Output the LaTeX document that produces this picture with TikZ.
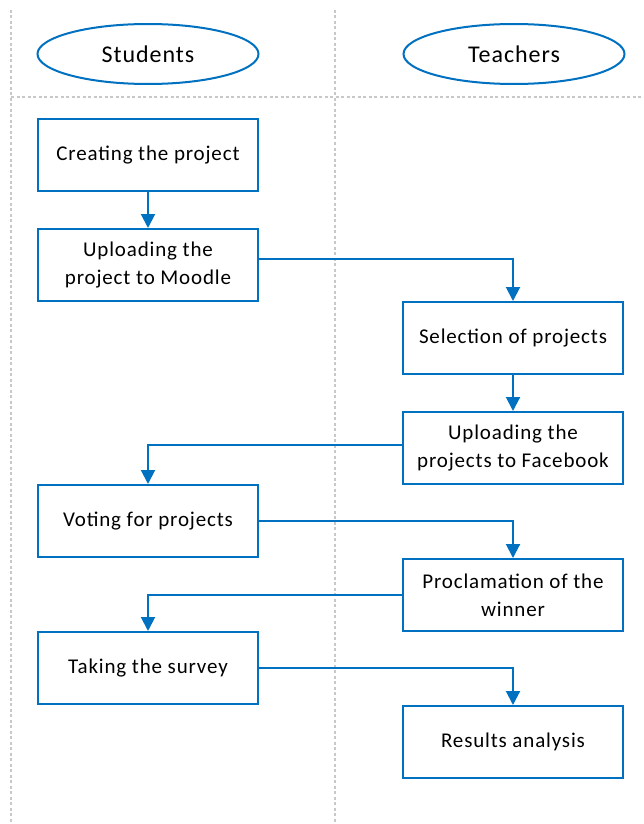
\documentclass[tikz,border=0pt]{standalone}
\usepackage{fontspec}
\setmainfont[LetterSpace=4]{Carlito}
\usetikzlibrary{arrows.meta,shapes.geometric}
\definecolor{flowblue}{HTML}{0070C0}
\definecolor{lanegray}{HTML}{C8C8C8}
\tikzset{
  lane/.style={draw=lanegray, line width=1.2pt, dash pattern=on 3pt off 2.5pt},
  stepbox/.style={draw=flowblue, line width=2pt, minimum width=220pt, minimum height=72pt, align=center, font=\fontsize{21}{28}\selectfont, inner sep=0pt},
  lanehead/.style={ellipse, draw=flowblue, line width=2pt, minimum width=221pt, minimum height=60pt, font=\fontsize{24}{28}\selectfont, inner sep=0pt},
  flow/.style={draw=flowblue, line width=2pt, -{Triangle[width=14pt,length=14pt]}}
}
\begin{document}
\begin{tikzpicture}[x=1pt,y=-1pt]
\useasboundingbox (0,0) rectangle (644,824);
% swimlane separators
\coordinate (l1top) at (11,10);
\coordinate (l1bot) at (11,824);
\coordinate (l2top) at (335,10);
\coordinate (l2bot) at (335,824);
\coordinate (hleft) at (11,97);
\coordinate (hright) at (644,97);
\draw[lane] (l1top) -- (l1bot);
\draw[lane] (l2top) -- (l2bot);
\draw[lane] (hleft) -- (hright);
% lane headers
\node[lanehead] (students) at (148,54) {Students};
\node[lanehead] (teachers) at (514,54) {Teachers};
% steps
\node[stepbox] (create) at (148,155) {Creating the project};
\node[stepbox] (moodle) at (148,265) {Uploading the\\project to Moodle};
\node[stepbox] (select) at (513,338) {Selection of projects};
\node[stepbox] (facebook) at (513,448) {Uploading the\\projects to Facebook};
\node[stepbox] (vote) at (148,521) {Voting for projects};
\node[stepbox] (proclaim) at (513,595) {Proclamation of the\\winner};
\node[stepbox] (survey) at (148,668) {Taking the survey};
\node[stepbox] (results) at (513,742) {Results analysis};
% connectors
\draw[flow] (create) -- (moodle);
\draw[flow] ([yshift=6pt]moodle.east) -| (select.north);
\draw[flow] (select) -- (facebook);
\draw[flow] ([yshift=3pt]facebook.west) -| (vote.north);
\draw[flow] (vote.east) -| (proclaim.north);
\draw[flow] (proclaim.west) -| (survey.north);
\draw[flow] (survey.east) -| (results.north);
\end{tikzpicture}
\end{document}
